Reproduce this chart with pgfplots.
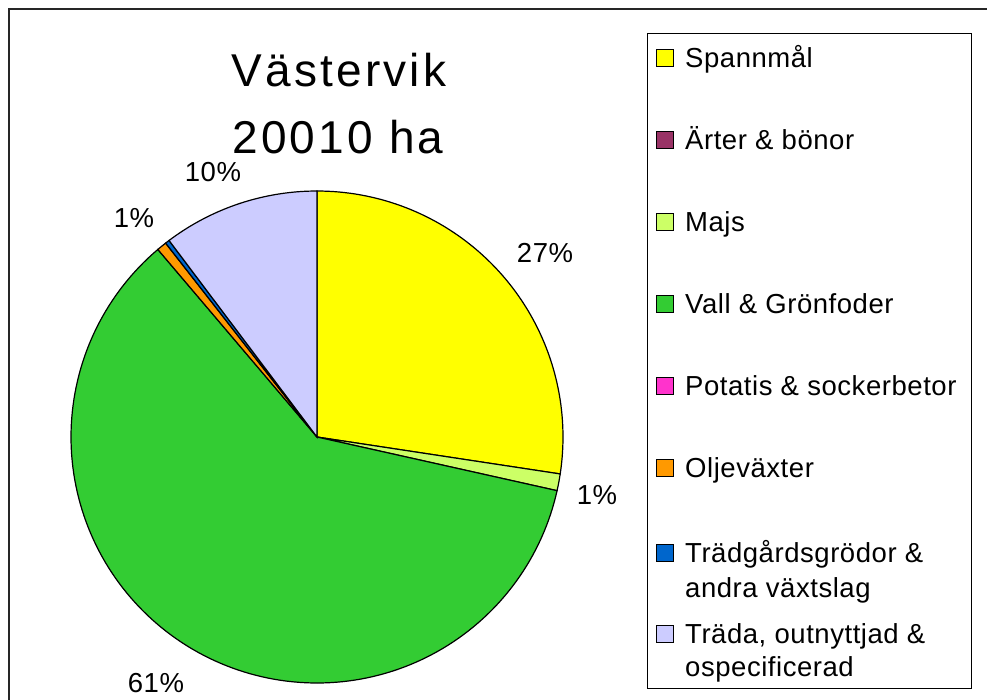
\documentclass[border=0pt]{standalone}
\usepackage{pgfplots}
\pgfplotsset{compat=1.18}
\usepackage{fontspec}
\setmainfont{Liberation Sans}[LetterSpace=2]
\newfontfamily\ttlfont{Liberation Sans}[LetterSpace=7]
\definecolor{cSpan}{HTML}{FFFF00}
\definecolor{cArt}{HTML}{993366}
\definecolor{cMajs}{HTML}{CCFF66}
\definecolor{cVall}{HTML}{33CC33}
\definecolor{cPot}{HTML}{FF33CC}
\definecolor{cOlj}{HTML}{FF9900}
\definecolor{cTrg}{HTML}{0066CC}
\definecolor{cTrd}{HTML}{CCCCFF}
\newcommand{\lbl}{\fontsize{27.5}{30}\selectfont}
\newcommand{\ttl}{\fontsize{46}{50}\ttlfont}
% shares (%): Spannmål 27.4, Ärter & bönor 0, Majs 1.1, Vall & Grönfoder 60.3,
% Potatis & sockerbetor 0, Oljeväxter 0.65, Trädgårdsgrödor 0.28, Träda 10.27
% start at 12 o'clock, clockwise; angle = 90 - 3.6*cumulative share
\begin{document}
\begin{tikzpicture}
\begin{axis}[scale only axis, width=987pt, height=699pt,
  xmin=0, xmax=987, ymin=0, ymax=699, y dir=reverse,
  hide axis, clip=false]
% pie wedges
\addplot[draw=black, line width=1.2pt, fill=cSpan, domain=-8.64:90, samples=80, variable=\t]
  ({317+246*cos(\t)},{437-246*sin(\t)}) -- (317,437) -- cycle;
\addplot[draw=black, line width=1.2pt, fill=cMajs, domain=-12.6:-8.64, samples=6, variable=\t]
  ({317+246*cos(\t)},{437-246*sin(\t)}) -- (317,437) -- cycle;
\addplot[draw=black, line width=1.2pt, fill=cVall, domain=-229.68:-12.6, samples=150, variable=\t]
  ({317+246*cos(\t)},{437-246*sin(\t)}) -- (317,437) -- cycle;
\addplot[draw=black, line width=1.2pt, fill=cOlj, domain=-232.02:-229.68, samples=4, variable=\t]
  ({317+246*cos(\t)},{437-246*sin(\t)}) -- (317,437) -- cycle;
\addplot[draw=black, line width=1.2pt, fill=cTrg, domain=-233.03:-232.02, samples=3, variable=\t]
  ({317+246*cos(\t)},{437-246*sin(\t)}) -- (317,437) -- cycle;
\addplot[draw=black, line width=1.2pt, fill=cTrd, domain=-270:-233.03, samples=40, variable=\t]
  ({317+246*cos(\t)},{437-246*sin(\t)}) -- (317,437) -- cycle;
% data labels
\node[font=\lbl] at (545,253) {27\%};
\node[font=\lbl] at (597,495) {1\%};
\node[font=\lbl] at (156,683) {61\%};
\node[font=\lbl] at (134,218) {1\%};
\node[font=\lbl] at (213,172) {10\%};
% title
\node[font=\ttl, anchor=base] at (339,86) {Västervik};
\node[font=\ttl, anchor=base] at (338,153) {20010 ha};
% outer frame
\addplot[black!85, line width=2pt] coordinates {(9,700) (9,9) (988,9)};
% legend frame
\addplot[black, line width=1pt] coordinates {(647,33) (971,33) (971,688) (647,688)} -- cycle;
% legend squares
\addplot[only marks, mark=square*, mark size=8.5pt, mark options={fill=cSpan, draw=black, line width=0.9pt}] coordinates {(665,58)};
\addplot[only marks, mark=square*, mark size=8.5pt, mark options={fill=cArt, draw=black, line width=0.9pt}] coordinates {(665,140)};
\addplot[only marks, mark=square*, mark size=8.5pt, mark options={fill=cMajs, draw=black, line width=0.9pt}] coordinates {(665,222)};
\addplot[only marks, mark=square*, mark size=8.5pt, mark options={fill=cVall, draw=black, line width=0.9pt}] coordinates {(665,304)};
\addplot[only marks, mark=square*, mark size=8.5pt, mark options={fill=cPot, draw=black, line width=0.9pt}] coordinates {(665,386)};
\addplot[only marks, mark=square*, mark size=8.5pt, mark options={fill=cOlj, draw=black, line width=0.9pt}] coordinates {(665,468)};
\addplot[only marks, mark=square*, mark size=8.5pt, mark options={fill=cTrg, draw=black, line width=0.9pt}] coordinates {(665,553)};
\addplot[only marks, mark=square*, mark size=8.5pt, mark options={fill=cTrd, draw=black, line width=0.9pt}] coordinates {(665,634)};
% legend texts
\node[font=\lbl, anchor=base west, inner sep=0pt] at (685,67) {Spannmål};
\node[font=\lbl, anchor=base west, inner sep=0pt] at (685,149) {Ärter \& bönor};
\node[font=\lbl, anchor=base west, inner sep=0pt] at (685,231) {Majs};
\node[font=\lbl, anchor=base west, inner sep=0pt] at (685,313) {Vall \& Grönfoder};
\node[font=\lbl, anchor=base west, inner sep=0pt] at (685,395) {Potatis \& sockerbetor};
\node[font=\lbl, anchor=base west, inner sep=0pt] at (685,477) {Oljeväxter};
\node[font=\lbl, anchor=base west, inner sep=0pt] at (685,562) {Trädgårdsgrödor \&};
\node[font=\lbl, anchor=base west, inner sep=0pt] at (685,597) {andra växtslag};
\node[font=\lbl, anchor=base west, inner sep=0pt] at (685,643) {Träda, outnyttjad \&};
\node[font=\lbl, anchor=base west, inner sep=0pt] at (685,676) {ospecificerad};
\end{axis}
\pgfresetboundingbox
\path (current axis.south west) rectangle (current axis.north east);
\end{tikzpicture}
\end{document}
